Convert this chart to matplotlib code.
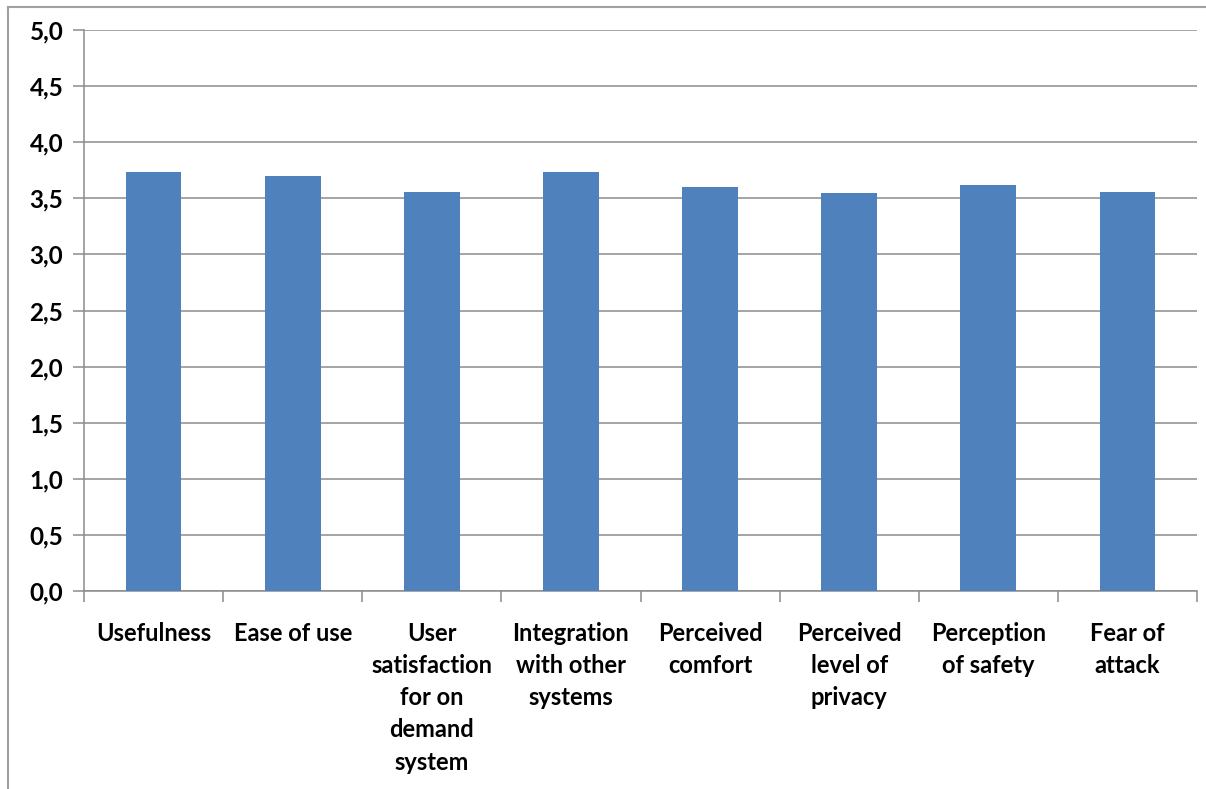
import matplotlib
matplotlib.use("Agg")
import matplotlib.pyplot as plt
from matplotlib.lines import Line2D

categories = ["Usefulness", "Ease of use", "User\nsatisfaction\nfor on\ndemand\nsystem",
              "Integration\nwith other\nsystems", "Perceived\ncomfort", "Perceived\nlevel of\nprivacy",
              "Perception\nof safety", "Fear of\nattack"]
values = [3.73, 3.70, 3.56, 3.73, 3.60, 3.55, 3.62, 3.56]
yticks = [0.0, 0.5, 1.0, 1.5, 2.0, 2.5, 3.0, 3.5, 4.0, 4.5, 5.0]
ytick_labels = [f"{v:.1f}".replace(".", ",") for v in yticks]

plt.rcParams['font.family'] = ['Lato', 'DejaVu Sans']

fig = plt.figure(figsize=(12.06, 7.89), dpi=100)
ax = fig.add_axes([84/1206, 1-591/789, (1197-84)/1206, (591-30)/789])

grid_c = "#8c8c8c"
x = list(range(len(categories)))
ax.bar(x, values, width=0.4, color="#4F81BD", zorder=3)
ax.set_xlim(-0.5, len(categories)-0.5)
ax.set_ylim(0, 5)
ax.set_yticks(yticks)
ax.set_yticklabels(ytick_labels, fontsize=17.5, fontweight='bold')
ax.yaxis.grid(True, color=grid_c, linewidth=1.1, zorder=0)
ax.set_xticks(x)
ax.set_xticklabels(categories, fontsize=17, fontweight='bold', linespacing=1.49, va='top')
ax.tick_params(axis='x', length=0, pad=22)
ax.set_xticks([i - 0.5 for i in range(len(categories)+1)], minor=True)
ax.tick_params(axis='x', which='minor', length=8, color=grid_c, width=1.1)
ax.tick_params(axis='y', length=8, color=grid_c, width=1.1, pad=7)
for s in ['top', 'right']:
    ax.spines[s].set_visible(False)
for s in ['left', 'bottom']:
    ax.spines[s].set_color(grid_c)
    ax.spines[s].set_linewidth(1.1)

# outer frame (top and left visible)
fig.add_artist(Line2D([8/1206, 1], [1-7/789, 1-7/789], color="#a0a0a0", linewidth=1.5, transform=fig.transFigure))
fig.add_artist(Line2D([8/1206, 8/1206], [0, 1-7/789], color="#a0a0a0", linewidth=1.5, transform=fig.transFigure))

fig.savefig("out.png", dpi=100)
